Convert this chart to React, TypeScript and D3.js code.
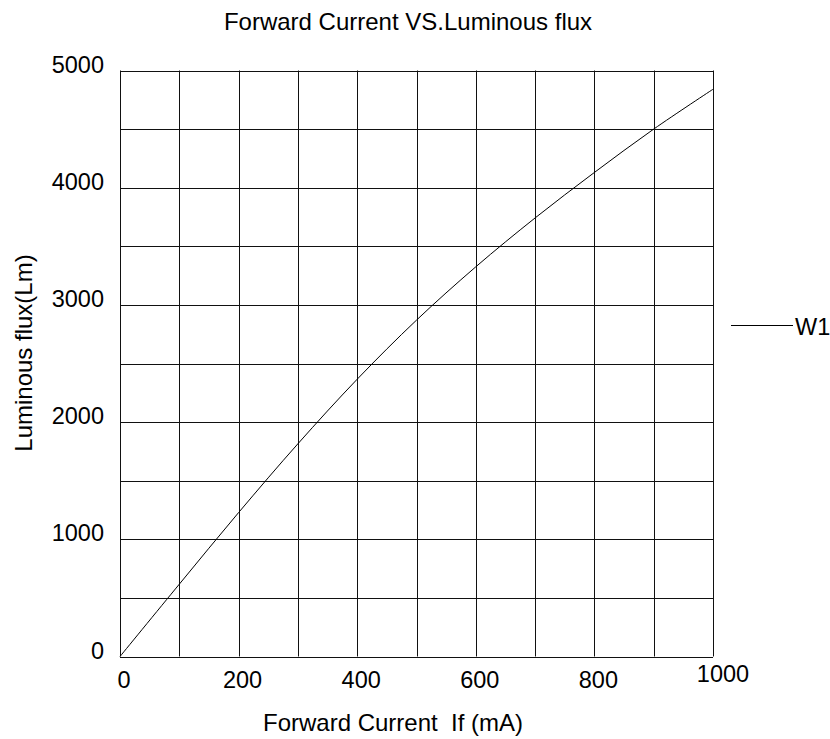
import React from "react";
import * as d3 from "d3";

const currentMA = [0, 100, 200, 300, 400, 500, 600, 700, 800, 900, 1000];
const fluxLm = [0, 617, 1228, 1815, 2366, 2870, 3325, 3742, 4130, 4500, 4840];
const xTickValues = [0, 200, 400, 600, 800, 1000];
const yTickValues = [0, 1000, 2000, 3000, 4000, 5000];
const xGridValues = [0, 100, 200, 300, 400, 500, 600, 700, 800, 900, 1000];
const yGridValues = [0, 500, 1000, 1500, 2000, 2500, 3000, 3500, 4000, 4500, 5000];
const seriesName = "W1";
const titleText = "Forward Current VS.Luminous flux";
const xLabel = "Forward Current  If (mA)";
const yLabel = "Luminous flux(Lm)";

const W = 830;
const H = 739;
const left = 120;
const right = 713;
const top = 70.5;
const bottom = 656.5;
const FONT = "'Liberation Sans', Arial, sans-serif";

export default function App() {
  const x = d3.scaleLinear().domain([0, 1000]).range([left, right]);
  const y = d3.scaleLinear().domain([0, 5000]).range([bottom, top]);
  const pts = currentMA.map((c, i) => [c, fluxLm[i]] as [number, number]);
  const line = d3
    .line<[number, number]>()
    .x((d) => x(d[0]))
    .y((d) => y(d[1]))
    .curve(d3.curveCatmullRom.alpha(0.5));

  return (
    <svg
      width={W}
      height={H}
      style={{ position: "absolute", left: 0, top: 0, background: "#fff" }}
      fontFamily={FONT}
    >
      <rect x={0} y={0} width={W} height={H} fill="#fff" />
      <text x={408} y={29.5} fontSize={24} textAnchor="middle" fill="#000">
        {titleText}
      </text>
      {xGridValues.map((v) => (
        <line
          key={"xg" + v}
          x1={Math.round(x(v)) + 0.5}
          x2={Math.round(x(v)) + 0.5}
          y1={top}
          y2={bottom}
          stroke="#111"
          strokeWidth={1}
        />
      ))}
      {yGridValues.map((v) => (
        <line
          key={"yg" + v}
          x1={left}
          x2={right}
          y1={Math.round(y(v)) + 0.5}
          y2={Math.round(y(v)) + 0.5}
          stroke="#111"
          strokeWidth={1}
        />
      ))}
      <path d={line(pts) || ""} fill="none" stroke="#000" strokeWidth={1} />
      {yTickValues.map((v) => (
        <text
          key={"yt" + v}
          x={104}
          y={y(v) + 2}
          fontSize={23.5}
          textAnchor="end"
          fill="#000"
        >
          {v}
        </text>
      ))}
      {xTickValues.map((v, i) => {
        const last = i === xTickValues.length - 1;
        return (
          <text
            key={"xt" + v}
            x={x(v) + (last ? 10 : 4)}
            y={last ? 681.5 : 688}
            fontSize={23.5}
            textAnchor="middle"
            fill="#000"
          >
            {v}
          </text>
        );
      })}
      <text x={393} y={731} fontSize={24} textAnchor="middle" fill="#000" style={{ whiteSpace: "pre" }}>
        {xLabel}
      </text>
      <text
        transform={`translate(32,353) rotate(-90)`}
        fontSize={24}
        textAnchor="middle"
        fill="#000"
      >
        {yLabel}
      </text>
      <line x1={731} x2={793} y1={325.5} y2={325.5} stroke="#000" strokeWidth={1} />
      <text x={795} y={335} fontSize={23.5} fill="#000">
        {seriesName}
      </text>
    </svg>
  );
}
